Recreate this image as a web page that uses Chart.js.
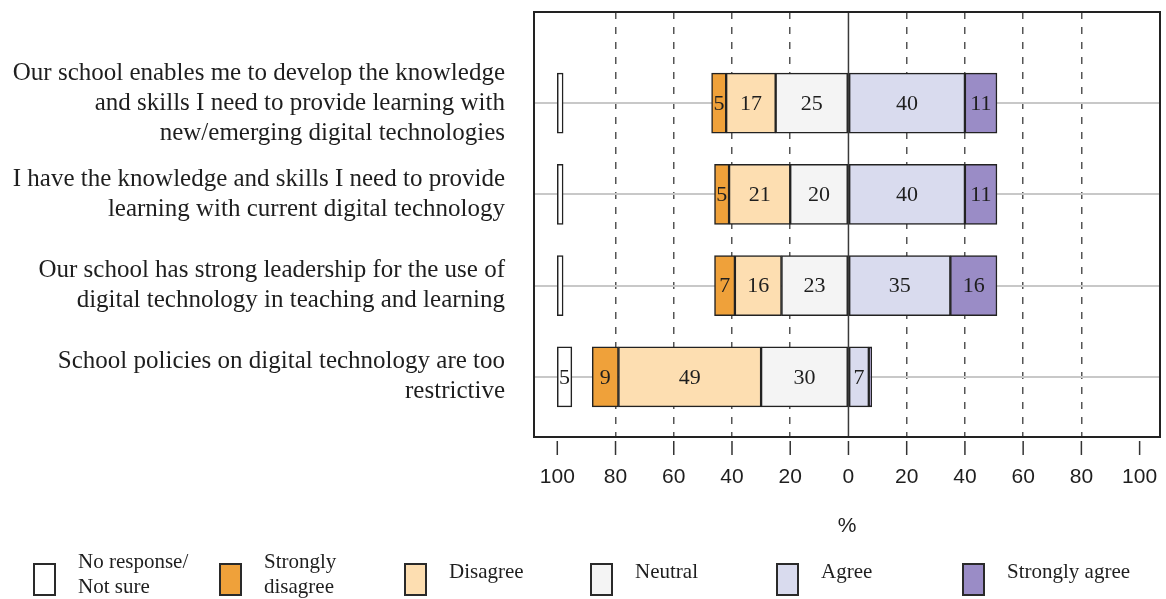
<!DOCTYPE html>
<html><head><meta charset="utf-8">
<script src="https://cdn.jsdelivr.net/npm/chart.js@4.4.1/dist/chart.umd.min.js"></script>
<style>
html,body{margin:0;padding:0;background:#fff;}
#wrap{position:relative;width:1166px;height:599px;overflow:hidden;background:#fff;}
canvas{position:absolute;left:0;top:0;}
.lg-box{position:absolute;box-sizing:border-box;width:23px;height:33px;border:2px solid #2a2a2a;}
.lg-txt{position:absolute;font-family:"Liberation Serif","Times New Roman",serif;font-size:21px;line-height:25px;color:#1e1e1e;white-space:nowrap;}
</style></head><body>
<div id="wrap"><canvas id="c" width="1166" height="599"></canvas></div>
<script>
const categories = [
  ["Our school enables me to develop the knowledge", "and skills I need to provide learning with", "new/emerging digital technologies"],
  ["I have the knowledge and skills I need to provide", "learning with current digital technology"],
  ["Our school has strong leadership for the use of", "digital technology in teaching and learning"],
  ["School policies on digital technology are too", "restrictive"]
];
const seriesNames = [["No response/", "Not sure"], ["Strongly", "disagree"], ["Disagree"], ["Neutral"], ["Agree"], ["Strongly agree"]];
const noResponse       = [2, 2, 2, 5];
const stronglyDisagree = [5, 5, 7, 9];
const disagree         = [17, 21, 16, 49];
const neutral          = [25, 20, 23, 30];
const agree            = [40, 40, 35, 7];
const stronglyAgree    = [11, 11, 16, 1];
const xTicks = [-100, -80, -60, -40, -20, 0, 20, 40, 60, 80, 100];
const colors = ['#ffffff', '#efa13a', '#fddeb1', '#f4f4f4', '#d9dbee', '#9a8cc6'];

const values = [noResponse, stronglyDisagree, disagree, neutral, agree, stronglyAgree];
const ranges = [
  noResponse.map(v => [-100, -100 + v]),
  stronglyDisagree.map((v, i) => [-(neutral[i] + disagree[i] + v), -(neutral[i] + disagree[i])]),
  disagree.map((v, i) => [-(neutral[i] + v), -neutral[i]]),
  neutral.map(v => [-v, 0]),
  agree.map(v => [0, v]),
  stronglyAgree.map((v, i) => [agree[i], agree[i] + v])
];

const SERIF = '"Liberation Serif","Times New Roman",serif';
const SANS = '"Liberation Sans",Arial,sans-serif';

const labelPlugin = {
  id: 'segLabels',
  afterDatasetsDraw(chart) {
    const ctx = chart.ctx;
    ctx.save();
    ctx.font = '22px ' + SERIF;
    ctx.fillStyle = '#1e1e1e';
    ctx.textAlign = 'center';
    ctx.textBaseline = 'middle';
    chart.data.datasets.forEach((ds, k) => {
      const meta = chart.getDatasetMeta(k);
      meta.data.forEach((el, i) => {
        const v = values[k][i];
        if (v < 3) return;
        ctx.fillText(String(v), (el.x + el.base) / 2, el.y + 1);
      });
    });
    ctx.restore();
  }
};

const framePlugin = {
  id: 'frame',
  afterDatasetsDraw(chart) {
    const {ctx, chartArea: a, scales} = chart;
    ctx.save();
    const x0 = scales.x.getPixelForValue(0);
    ctx.strokeStyle = '#3a3a3a';
    ctx.lineWidth = 1.5;
    ctx.beginPath(); ctx.moveTo(x0, a.top); ctx.lineTo(x0, a.bottom); ctx.stroke();
    ctx.strokeStyle = '#222';
    ctx.lineWidth = 2;
    ctx.strokeRect(a.left, a.top, a.right - a.left, a.bottom - a.top);
    ctx.strokeStyle = '#333';
    ctx.lineWidth = 1.5;
    xTicks.forEach(v => {
      const x = scales.x.getPixelForValue(v);
      ctx.beginPath(); ctx.moveTo(x, a.bottom + 4); ctx.lineTo(x, a.bottom + 18); ctx.stroke();
    });
    ctx.restore();
  }
};

new Chart(document.getElementById('c'), {
  type: 'bar',
  data: {
    datasets: seriesNames.map((n, k) => ({
      label: n.join(' '),
      data: ranges[k].map((r, i) => ({x: r, y: i + 1})),
      backgroundColor: colors[k],
      borderColor: '#222',
      borderWidth: 1.5,
      borderSkipped: false,
      barThickness: 60,
      grouped: false
    }))
  },
  options: {
    indexAxis: 'y',
    responsive: false,
    animation: false,
    layout: {padding: {top: 12, right: 6, left: 0, bottom: 0}},
    plugins: {legend: {display: false}, tooltip: {enabled: false}},
    scales: {
      x: {
        type: 'linear', min: -108, max: 107,
        afterBuildTicks: s => { s.ticks = xTicks.map(v => ({value: v})); },
        afterFit: s => { s.height = 162; s.paddingLeft = 0; s.paddingRight = 0; },
        grid: {
          drawTicks: false, lineWidth: 1.5,
          color: c => (c.tick && (c.tick.value === 0 || Math.abs(c.tick.value) === 100)) ? 'rgba(0,0,0,0)' : '#555'
        },
        border: {display: false, dash: [7, 8]},
        ticks: {
          callback: v => String(Math.abs(v)), padding: 28, autoSkip: false, maxRotation: 0,
          font: {family: SANS, size: 21}, color: '#1e1e1e'
        },
        title: {display: true, text: '%', font: {family: SANS, size: 21}, color: '#1e1e1e', padding: {top: 0, bottom: 60}}
      },
      y: {
        type: 'linear', min: 0, max: 4.66, reverse: true, offset: false,
        afterBuildTicks: s => { s.ticks = categories.map((_, i) => ({value: i + 1})); },
        afterFit: s => { s.width = 534; s.paddingTop = 0; s.paddingBottom = 0; },
        grid: {drawTicks: false, offset: false, color: '#c8c8c8', lineWidth: 2},
        border: {display: false},
        ticks: {
          callback: v => categories[v - 1], padding: 29, autoSkip: false,
          font: {family: SERIF, size: 25, lineHeight: 1.2}, color: '#1e1e1e'
        }
      }
    }
  },
  plugins: [labelPlugin, framePlugin]
});

const wrap = document.getElementById('wrap');
const legendX = [33, 219, 404, 590, 776, 962];
seriesNames.forEach((n, k) => {
  const b = document.createElement('div');
  b.className = 'lg-box';
  b.style.left = legendX[k] + 'px';
  b.style.top = '563px';
  b.style.background = colors[k];
  wrap.appendChild(b);
  const t = document.createElement('div');
  t.className = 'lg-txt';
  t.style.left = (legendX[k] + 45) + 'px';
  t.style.top = (n.length > 1 ? 549 : 559) + 'px';
  t.innerHTML = n.map(s => s.replace(/&/g, '&amp;').replace(/</g, '&lt;')).join('<br>');
  wrap.appendChild(t);
});
</script>
</body></html>
